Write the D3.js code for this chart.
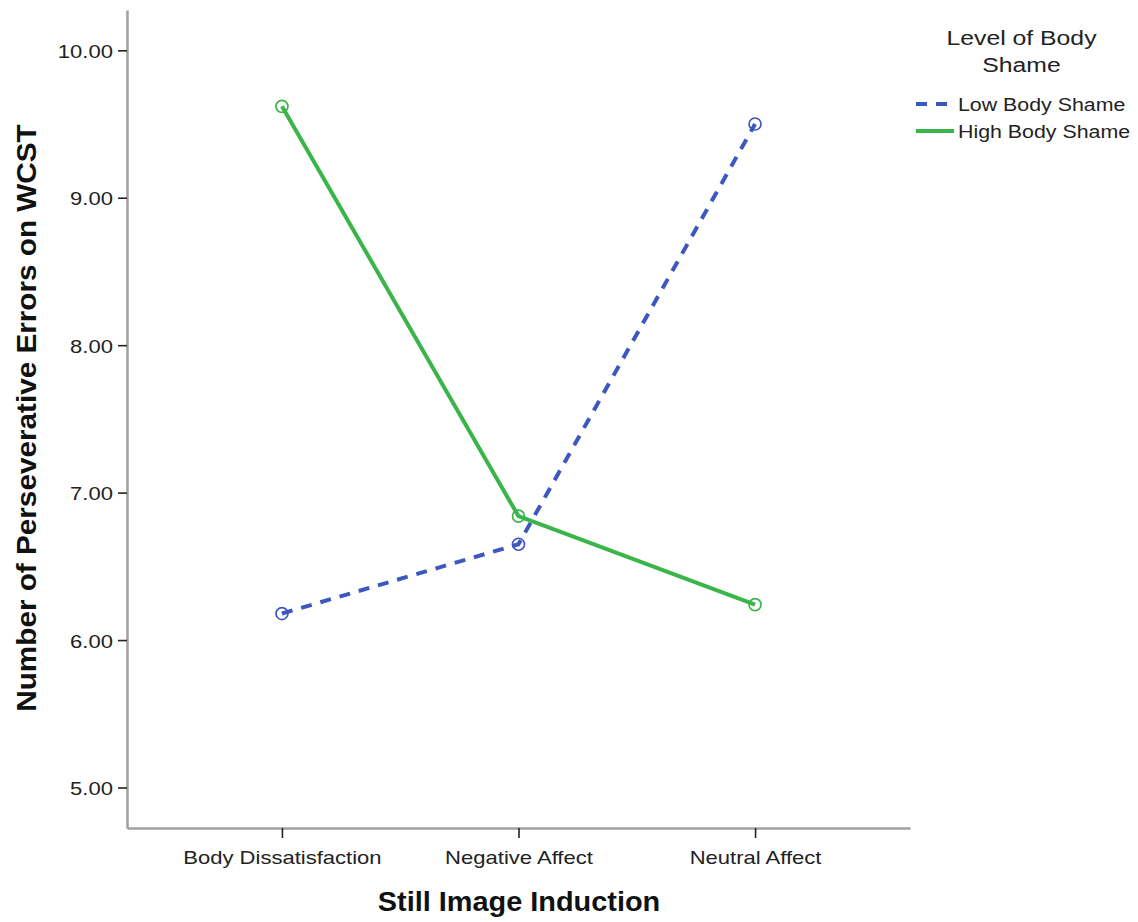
<!DOCTYPE html>
<html><head><meta charset="utf-8">
<script src="https://cdn.jsdelivr.net/npm/d3@7"></script>
<style>body{margin:0;background:#fff}text{font-family:"Liberation Sans",Arial,sans-serif}</style>
</head><body><svg id="c" width="1138" height="922"></svg>
<script>
const categories = ["Body Dissatisfaction","Negative Affect","Neutral Affect"];
const lowBodyShame = [6.18, 6.65, 9.50];
const highBodyShame = [9.62, 6.84, 6.24];
const yTicks = [5,6,7,8,9,10];
const seriesNames = ["Low Body Shame","High Body Shame"];
const legendTitle = ["Level of Body","Shame"];

const svg = d3.select("#c");
const x = d3.scalePoint().domain(categories).range([127,910]).padding(0.655);
const y = d3.scaleLinear().domain([5 - 40.5/147.5, 10 + 40.3/147.5]).range([828,10]);

function place(sel, tx, ty, sx){
  sel.attr("x",null).attr("y",null).attr("dy",null)
     .attr("transform",`translate(${tx},${ty}) scale(${sx},1)`);
}

// axes
const gy = svg.append("g").attr("transform","translate(127,0)")
  .call(d3.axisLeft(y).tickValues(yTicks).tickFormat(d3.format(".2f")).tickSize(9).tickSizeOuter(0));
gy.select(".domain").attr("stroke","#a0a0a0").attr("stroke-width",2.5);
gy.selectAll(".tick line").attr("stroke","#222").attr("stroke-width",1.6);
gy.selectAll(".tick text").attr("font-size",19).attr("fill","#222")
  .attr("font-family","Liberation Sans, Arial, sans-serif").call(place,-14,7,1.16);

const gx = svg.append("g").attr("transform","translate(0,828)")
  .call(d3.axisBottom(x).tickSize(10).tickSizeOuter(0));
gx.select(".domain").attr("stroke","#a0a0a0").attr("stroke-width",2.5);
gx.selectAll(".tick line").attr("stroke","#222").attr("stroke-width",1.6);
gx.selectAll(".tick text").attr("font-size",19).attr("fill","#222")
  .attr("font-family","Liberation Sans, Arial, sans-serif").call(place,0,36,1.16);

// titles
svg.append("text").attr("text-anchor","middle")
  .attr("font-size",27).attr("font-weight","bold").attr("fill","#111").text("Still Image Induction")
  .call(place,519,911,1.07);
svg.append("text").attr("transform","translate(36,418) rotate(-90) scale(1.1,1)").attr("text-anchor","middle")
  .attr("font-size",27).attr("font-weight","bold").attr("fill","#111").text("Number of Perseverative Errors on WCST");

const blue = "#3d57c0", green = "#3ab54a";
const line = d3.line().x((d,i)=>x(categories[i])).y(d=>y(d));

svg.append("path").datum(lowBodyShame).attr("d",line).attr("fill","none")
  .attr("stroke",blue).attr("stroke-width",4).attr("stroke-dasharray","11,9");
svg.append("path").datum(highBodyShame).attr("d",line).attr("fill","none")
  .attr("stroke",green).attr("stroke-width",4);

[[lowBodyShame,blue],[highBodyShame,green]].forEach(([vals,col])=>{
  svg.append("g").selectAll("circle").data(vals).join("circle")
    .attr("cx",(d,i)=>x(categories[i])).attr("cy",d=>y(d)).attr("r",6)
    .attr("fill","none").attr("stroke",col).attr("stroke-width",1.7);
});

// legend
const lg = svg.append("g");
legendTitle.forEach((t,i)=>{
  lg.append("text").attr("text-anchor","middle").attr("font-size",21).attr("fill","#222").text(t)
    .call(place,1021.5,45+i*27,1.18);
});
const items = [[seriesNames[0],blue,"11,9"],[seriesNames[1],green,null]];
items.forEach(([name,col,dash],i)=>{
  const yy = 104 + i*27;
  lg.append("line").attr("x1",916).attr("x2",954).attr("y1",yy).attr("y2",yy)
    .attr("stroke",col).attr("stroke-width",4).attr("stroke-dasharray",dash);
  lg.append("text").attr("font-size",18.5).attr("fill","#222").text(name)
    .call(place,958,yy+7,1.155);
});
</script></body></html>
